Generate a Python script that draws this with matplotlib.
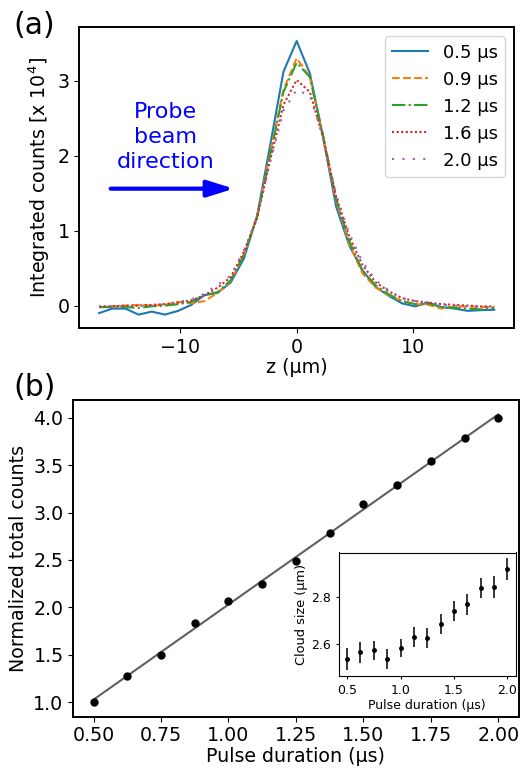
import numpy as np
import matplotlib
matplotlib.use('Agg')
import matplotlib.pyplot as plt

# (a) integrated profiles along z, in units of 1e4 counts
z = np.linspace(-17, 17, 31)
labels = ['0.5 µs', '0.9 µs', '1.2 µs', '1.6 µs', '2.0 µs']
prof_05 = [-0.10, -0.04, -0.04, -0.12, -0.08, -0.12, -0.07, 0.01, 0.14, 0.17, 0.31,
           0.63, 1.20, 2.15, 3.12, 3.53, 3.10, 2.25, 1.32, 0.80, 0.47, 0.25, 0.13,
           0.03, -0.01, 0.04, -0.02, -0.04, -0.07, -0.06, -0.055]
prof_09 = [-0.02, -0.01, 0.00, 0.01, 0.00, 0.01, 0.05, 0.03, 0.06, 0.17, 0.33,
           0.68, 1.20, 2.05, 2.88, 3.30, 3.05, 2.25, 1.40, 0.82, 0.43, 0.24, 0.14,
           0.06, 0.02, 0.01, -0.04, -0.01, -0.01, -0.02, -0.02]
prof_12 = [-0.02, -0.02, -0.02, -0.03, -0.01, 0.00, 0.02, 0.05, 0.14, 0.18, 0.34,
           0.68, 1.18, 2.02, 2.85, 3.24, 3.05, 2.28, 1.42, 0.86, 0.46, 0.27, 0.15,
           0.06, 0.02, 0.03, -0.02, -0.03, -0.04, -0.05, -0.03]
prof_16 = [-0.01, -0.01, 0.00, 0.00, 0.01, 0.02, 0.04, 0.07, 0.14, 0.24, 0.38,
           0.72, 1.17, 1.95, 2.68, 3.01, 2.85, 2.25, 1.45, 0.92, 0.54, 0.31, 0.19,
           0.10, 0.06, 0.04, 0.02, 0.01, 0.00, -0.01, -0.01]
prof_20 = [-0.01, -0.01, -0.01, 0.00, 0.00, 0.02, 0.05, 0.08, 0.16, 0.28, 0.40,
           0.74, 1.18, 1.92, 2.60, 2.88, 2.80, 2.25, 1.48, 0.96, 0.58, 0.34, 0.20,
           0.10, 0.06, 0.03, 0.01, 0.00, -0.01, -0.02, -0.02]

# (b) total counts vs pulse duration
pulse = [0.5, 0.625, 0.75, 0.875, 1.0, 1.125, 1.25, 1.375, 1.5, 1.625, 1.75, 1.875, 2.0]
counts = [1.00, 1.28, 1.50, 1.83, 2.07, 2.25, 2.49, 2.78, 3.09, 3.29, 3.54, 3.79, 4.00]

# inset: cloud size
size = [2.536, 2.564, 2.574, 2.537, 2.583, 2.630, 2.626, 2.686, 2.740, 2.769, 2.839, 2.841, 2.919]
size_err = [0.048, 0.043, 0.040, 0.043, 0.040, 0.043, 0.042, 0.042, 0.041, 0.044, 0.042, 0.046, 0.046]

W, H = 525, 771
fig = plt.figure(figsize=(W / 100, H / 100), dpi=100)

def px_axes(l, t, r, b):
    return fig.add_axes([l / W, 1 - b / H, (r - l) / W, (b - t) / H])

fs = 13.7

# ---- panel (a)
ax1 = px_axes(79.3, 27.3, 514, 328.3)
ax1.plot(z, prof_05, color='C0', ls='-', lw=1.5, label=labels[0])
ax1.plot(z, prof_09, color='C1', ls='--', lw=1.5, label=labels[1])
ax1.plot(z, prof_12, color='C2', ls='-.', lw=1.5, label=labels[2])
ax1.plot(z, prof_16, color='C3', ls=(0, (1, 1.2)), lw=1.5, label=labels[3])
ax1.plot(z, prof_20, color='C4', ls=(0, (1, 4)), lw=1.5, label=labels[4])
ax1.set_xticks([-10, 0, 10])
ax1.set_yticks([0, 1, 2, 3])
ax1.set_xlabel('z (µm)', fontsize=fs, labelpad=1)
ax1.set_ylabel(r'Integrated counts [x 10$^4$]', fontsize=fs)
ax1.tick_params(labelsize=fs)
ax1.legend(fontsize=13, loc='upper right')
ax1.text(-11.3, 2.25, 'Probe\nbeam\ndirection', color='blue', fontsize=16,
         ha='center', va='center', linespacing=1.3)
ax1.annotate('', xy=(-5.4, 1.56), xytext=(-16.0, 1.56),
             arrowprops=dict(arrowstyle='-|>,head_length=1.6,head_width=0.5',
                             color='blue', lw=3, shrinkA=0, shrinkB=0))

# ---- panel (b)
ax2 = px_axes(73.3, 400, 518.5, 716.5)
fit = np.polyfit(pulse, counts, 1)
xfit = np.array([pulse[0], pulse[-1]])
ax2.plot(xfit, np.polyval(fit, xfit), color='#606060', lw=1.5, zorder=1)
ax2.plot(pulse, counts, 'o', color='black', ms=5, zorder=2)
ax2.set_xticks([0.5, 0.75, 1.0, 1.25, 1.5, 1.75, 2.0])
ax2.set_xticklabels(['0.50', '0.75', '1.00', '1.25', '1.50', '1.75', '2.00'])
ax2.set_yticks([1.0, 1.5, 2.0, 2.5, 3.0, 3.5, 4.0])
ax2.set_xlabel('Pulse duration (µs)', fontsize=fs, labelpad=1)
ax2.set_ylabel('Normalized total counts', fontsize=fs)
ax2.tick_params(labelsize=fs)

for ax in (ax1, ax2):
    for s in ax.spines.values():
        s.set_linewidth(1.4)

# ---- inset
ax3 = px_axes(339, 552.5, 515.5, 676)
ax3.errorbar(pulse, size, yerr=size_err, fmt='o', color='black', ms=2.5,
             elinewidth=1.1, capsize=0)
ax3.set_xticks([0.5, 1.0, 1.5, 2.0])
ax3.set_yticks([2.6, 2.8])
ax3.set_xlabel('Pulse duration (µs)', fontsize=9, labelpad=1)
ax3.set_ylabel('Cloud size (µm)', fontsize=9.3, labelpad=2)
ax3.tick_params(labelsize=9, length=2.5)
for s in ax3.spines.values():
    s.set_linewidth(0.8)

fig.text(13.3 / W, 1 - 26 / H, '(a)', fontsize=21.5, va='center', ha='left')
fig.text(13.3 / W, 1 - 388 / H, '(b)', fontsize=21.5, va='center', ha='left')

fig.savefig('out.png', dpi=100)
